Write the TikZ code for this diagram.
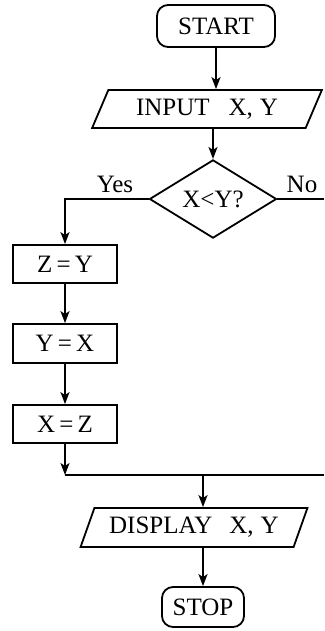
\documentclass[tikz,border=0pt]{standalone}
\usepackage{fontspec}
\setmainfont{Liberation Serif}
\usetikzlibrary{shapes.geometric,arrows.meta}
\begin{document}
\begin{tikzpicture}[x=1pt,y=-1pt,
  every node/.style={font=\fontsize{25}{29}\selectfont},
  term/.style={draw,line width=1.8pt,rounded corners=11pt,inner sep=0pt},
  io/.style={draw,line width=1.8pt,trapezium,trapezium left angle=60,trapezium right angle=120,trapezium stretches=true,inner sep=0pt},
  proc/.style={draw,line width=1.8pt,inner sep=0pt,minimum width=104pt},
  dec/.style={draw,line width=1.8pt,diamond,inner sep=0pt},
  conn/.style={line width=1.8pt},
  arr/.style={conn,-{Stealth[length=12pt,width=9pt,inset=3pt]}},
  lbl/.style={inner sep=0pt,anchor=base}]
\useasboundingbox (0,0) rectangle (324,631);
\node[term,minimum width=118pt,minimum height=42pt] (start) at (216,26) {START};
\node[io,minimum width=230pt,minimum height=38pt] (input) at (207,109) {INPUT\hspace{19pt}X,\hspace{7pt}Y};
\node[dec,minimum width=127pt,minimum height=62pt] (cond) at (213,199) {X<Y?};
\node[proc,minimum height=38pt] (zy) at (65,264) {Z\,=\,Y};
\node[proc,minimum height=39pt] (yx) at (65,343.5) {Y\,=\,X};
\node[proc,minimum height=38pt] (xz) at (65,424) {X\,=\,Z};
\node[io,minimum width=227pt,minimum height=39pt] (disp) at (194,527.5) {DISPLAY\hspace{17pt}X,\hspace{7pt}Y};
\node[term,minimum width=82pt,minimum height=40pt] (stop) at (203,607) {STOP};
\coordinate (noend) at (324,199);
\coordinate (merge) at (203,475);
\coordinate (mergeend) at (324,475);
\node[lbl] (yes) at (115,193) {Yes};
\node[lbl] (no) at (302,193) {No};
\draw[arr] (start.south) -- (start.south |- input.north);
\draw[arr] (cond.north |- input.south) -- (cond.north);
\draw[arr] (cond.west) -- (zy.north |- cond.west) -- (zy.north);
\draw[conn] (cond.east) -- (noend);
\draw[arr] (zy) -- (yx);
\draw[arr] (yx) -- (xz);
\draw[arr] (xz.south) -- (xz.south |- merge);
\draw[conn] (xz.south |- merge) -- (mergeend);
\draw[arr] (merge) -- (merge |- disp.north);
\draw[arr] (stop.north |- disp.south) -- (stop.north);
\end{tikzpicture}
\end{document}
